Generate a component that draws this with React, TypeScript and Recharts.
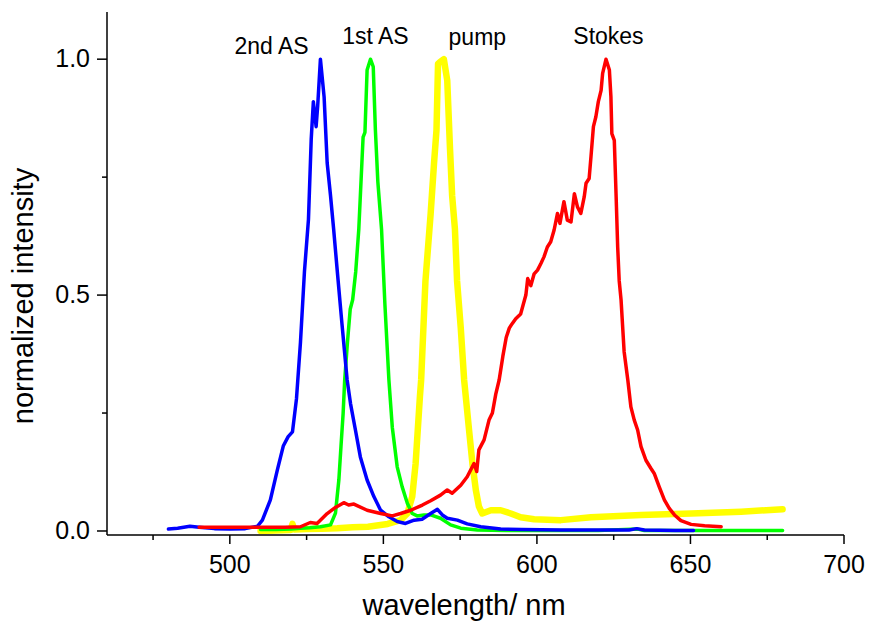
import { LineChart, Line, XAxis, YAxis, ReferenceDot } from 'recharts'

type Pt = [number, number]

// [wavelength nm, normalized intensity]
const secondAS: Pt[] = [
  [480, 0.004], [483, 0.006], [487, 0.01], [490, 0.008], [495, 0.005], [500, 0.004],
  [505, 0.005], [509, 0.01], [510.6, 0.023], [513.2, 0.066], [515.5, 0.13], [517.4, 0.18],
  [519, 0.2], [520.4, 0.21], [521.7, 0.28], [523, 0.4], [524.3, 0.55], [525.6, 0.66],
  [526.5, 0.83], [527.2, 0.91], [527.7, 0.88], [528.1, 0.857], [528.6, 0.9], [529.5, 1.0],
  [530.7, 0.92], [531.7, 0.78], [532.8, 0.71], [533.8, 0.64], [535, 0.55], [536.5, 0.44],
  [538.2, 0.32], [539.3, 0.27], [540.9, 0.214], [542.5, 0.157], [544.7, 0.108], [546.9, 0.073],
  [549.1, 0.044], [551.8, 0.03], [554.5, 0.02], [557.2, 0.016], [560, 0.023], [562.6, 0.025],
  [565.4, 0.037], [567.6, 0.046], [569.2, 0.034], [570.8, 0.027], [574.1, 0.023], [577.3, 0.015],
  [581.7, 0.009], [588.2, 0.004], [595, 0.003], [607.8, 0.002], [620, 0.002], [630, 0.002],
  [632.5, 0.005], [635, 0.002], [645, 0.001], [651, 0.001],
]

const firstAS: Pt[] = [
  [510, 0.003], [515, 0.003], [520, 0.004], [523, 0.006], [526, 0.007], [529.5, 0.009],
  [532.8, 0.013], [534.4, 0.038], [535.5, 0.108], [536.2, 0.18], [536.9, 0.25], [537.4, 0.32],
  [538.3, 0.4], [539.2, 0.47], [540, 0.49], [541, 0.55], [542, 0.64], [543, 0.78],
  [543.4, 0.835], [544, 0.845], [544.7, 0.977], [545.8, 1.0], [546.7, 0.984], [547.4, 0.85],
  [548.2, 0.74], [549.4, 0.64], [550.5, 0.48], [551.8, 0.32], [552.9, 0.22], [554.5, 0.136],
  [556.1, 0.094], [557.8, 0.059], [559.4, 0.037], [561, 0.032], [563.2, 0.034], [565.4, 0.034],
  [568.6, 0.027], [571.9, 0.013], [575.2, 0.006], [580.6, 0.002], [590, 0.001], [600, 0.001],
  [620, 0.001], [632.8, 0.004], [635, 0.001], [650, 0.001], [665, 0.001], [680, 0.001],
]

const pump: Pt[] = [
  [510, 0.0], [515, 0.001], [519.8, 0.002], [520.4, 0.015], [521, 0.003], [525, 0.004],
  [530, 0.005], [535, 0.006], [540, 0.008], [545, 0.009], [551.4, 0.015], [555.6, 0.023],
  [557.8, 0.037], [559.4, 0.073], [560.5, 0.143], [561.2, 0.214], [561.9, 0.285], [562.3, 0.32],
  [563.7, 0.53], [565.4, 0.673], [566.5, 0.78], [567.3, 0.85], [567.8, 0.99], [568.6, 0.995],
  [569.7, 1.0], [570.8, 0.955], [571.7, 0.81], [572.4, 0.71], [573.3, 0.64], [574, 0.53],
  [575.2, 0.43], [576.3, 0.32], [577.9, 0.214], [579, 0.143], [580.1, 0.087], [581.1, 0.052],
  [582.2, 0.037], [585, 0.044], [588.2, 0.044], [591.5, 0.037], [594.7, 0.029], [599.1, 0.025],
  [607.8, 0.023], [617.6, 0.029], [633.9, 0.034], [650.2, 0.037], [666.5, 0.041], [680, 0.046],
]

const stokes: Pt[] = [
  [490, 0.008], [500, 0.008], [510, 0.008], [518, 0.008], [523, 0.009], [526.2, 0.018],
  [528.4, 0.016], [531.7, 0.037], [534.4, 0.05], [537.1, 0.06], [538.7, 0.055], [540.4, 0.057],
  [544.7, 0.044], [549.1, 0.037], [552.9, 0.032], [555.6, 0.037], [558.9, 0.044], [562.7, 0.055],
  [565.4, 0.064], [568.6, 0.076], [570.8, 0.087], [572.4, 0.08], [575.2, 0.097], [577.3, 0.115],
  [579.5, 0.143], [580.4, 0.126], [581.1, 0.172], [582.8, 0.193], [584.4, 0.235], [585.5, 0.25],
  [586.6, 0.29], [587.7, 0.32], [588.9, 0.37], [590, 0.41], [591, 0.43], [592, 0.44],
  [593.1, 0.45], [594.7, 0.46], [596.4, 0.5], [597, 0.535], [598, 0.52], [599.1, 0.545],
  [600.2, 0.553], [601.3, 0.567], [602.3, 0.581], [603.4, 0.602], [604.5, 0.613], [605.6, 0.638],
  [606.7, 0.673], [607.5, 0.652], [608.8, 0.698], [609.9, 0.659], [611.1, 0.655], [612.2, 0.715],
  [613.2, 0.687], [614.3, 0.673], [615.4, 0.708], [616, 0.737], [617, 0.747], [617.6, 0.793],
  [618.4, 0.857], [619.2, 0.878], [620, 0.91], [620.9, 0.934], [621.4, 0.97], [622.5, 1.0],
  [623.6, 0.977], [624.1, 0.92], [624.4, 0.842], [625.2, 0.828], [625.8, 0.708], [626.3, 0.602],
  [626.8, 0.53], [627.4, 0.49], [628.4, 0.38], [629.6, 0.32], [630.6, 0.263], [631.7, 0.235],
  [632.8, 0.214], [633.9, 0.179], [635.5, 0.15], [637.1, 0.133], [638.2, 0.122], [639.8, 0.094],
  [641.5, 0.066], [643.1, 0.048], [644.8, 0.034], [646.9, 0.022], [650.2, 0.014], [654.6, 0.011],
  [660, 0.009],
]

const xTicks = [475, 500, 525, 550, 575, 600, 625, 650, 675, 700]
const yTicks = [0, 0.25, 0.5, 0.75, 1]
const yTickLabels: Record<string, string> = { '0': '0.0', '0.5': '0.5', '1': '1.0' }

const annotations = [
  { text: '2nd AS', nm: 513.6, at: 1.011 },
  { text: '1st AS', nm: 547.4, at: 1.033 },
  { text: 'pump', nm: 580.6, at: 1.029 },
  { text: 'Stokes', nm: 623.3, at: 1.033 },
]

const FONT = '"Liberation Sans", Arial, sans-serif'

const rows = (pts: Pt[]) => pts.map(([nm, v]) => ({ nm, v }))

function BottomTick({ x, y, payload }: any) {
  const major = payload.value % 50 === 0
  return (
    <g>
      <line x1={x} y1={y} x2={x} y2={y + (major ? 9 : 5)} stroke="#000" strokeWidth={1.5} />
      {major && (
        <text x={x} y={y + 38} textAnchor="middle" fontSize={25} fontFamily={FONT} fill="#000">
          {payload.value}
        </text>
      )}
    </g>
  )
}

function TopTick({ x, y }: any) {
  return <line x1={x} y1={y} x2={x} y2={y + 4} stroke="#000" strokeWidth={1.2} />
}

function LeftTick({ x, y, payload }: any) {
  const label = yTickLabels[String(payload.value)]
  return (
    <g>
      <line x1={x - (label ? 10 : 5)} y1={y} x2={x} y2={y} stroke="#000" strokeWidth={1.5} />
      {label && (
        <text x={x - 17} y={y + 8} textAnchor="end" fontSize={25} fontFamily={FONT} fill="#000">
          {label}
        </text>
      )}
    </g>
  )
}

function RightTick({ x, y }: any) {
  return <line x1={x - 4} y1={y} x2={x} y2={y} stroke="#000" strokeWidth={1.2} />
}

export default function App() {
  return (
    <div style={{ position: 'absolute', left: 0, top: 0, width: 870, height: 623, background: '#fff' }}>
      <LineChart width={870} height={623} margin={{ top: 12, right: 26, bottom: 0, left: 0 }}>
        <XAxis
          xAxisId="bottom"
          dataKey="nm"
          type="number"
          domain={[460, 700]}
          allowDataOverflow
          ticks={xTicks}
          interval={0}
          height={88}
          tickSize={0}
          tickMargin={0}
          tick={<BottomTick />}
          tickLine={false}
          axisLine={{ stroke: '#000', strokeWidth: 1.5 }}
          label={{
            content: () => (
              <text x={464} y={615} textAnchor="middle" fontSize={29} fontFamily={FONT} fill="#000">
                wavelength/ nm
              </text>
            ),
          }}
        />
        <XAxis
          xAxisId="top"
          orientation="top"
          dataKey="nm"
          type="number"
          domain={[460, 700]}
          allowDataOverflow
          ticks={xTicks.slice(0, -1)}
          interval={0}
          height={0}
          tickSize={0}
          tickMargin={0}
          tick={<TopTick />}
          tickLine={false}
          axisLine={{ stroke: '#000', strokeWidth: 1.5 }}
        />
        <YAxis
          yAxisId="left"
          type="number"
          domain={[-0.0085, 1.1]}
          allowDataOverflow
          ticks={yTicks}
          interval={0}
          width={107}
          tickSize={0}
          tickMargin={0}
          tick={<LeftTick />}
          tickLine={false}
          axisLine={{ stroke: '#000', strokeWidth: 1.5 }}
          label={{
            content: () => (
              <text
                x={33}
                y={296}
                transform="rotate(-90, 33, 296)"
                textAnchor="middle"
                fontSize={29}
                fontFamily={FONT}
                fill="#000"
              >
                normalized intensity
              </text>
            ),
          }}
        />
        <YAxis
          yAxisId="right"
          orientation="right"
          type="number"
          domain={[-0.0085, 1.1]}
          allowDataOverflow
          ticks={yTicks}
          interval={0}
          width={0}
          tickSize={0}
          tickMargin={0}
          tick={<RightTick />}
          tickLine={false}
          axisLine={{ stroke: '#000', strokeWidth: 1.5 }}
        />
        <Line xAxisId="bottom" yAxisId="left" data={rows(pump)} dataKey="v" type="linear" stroke="#ffff00" strokeWidth={6.5} dot={false} strokeLinejoin="round" strokeLinecap="round" isAnimationActive={false} />
        <Line xAxisId="bottom" yAxisId="left" data={rows(firstAS)} dataKey="v" type="linear" stroke="#00ff00" strokeWidth={3.5} dot={false} strokeLinejoin="round" strokeLinecap="round" isAnimationActive={false} />
        <Line xAxisId="bottom" yAxisId="left" data={rows(secondAS)} dataKey="v" type="linear" stroke="#0000ff" strokeWidth={3.5} dot={false} strokeLinejoin="round" strokeLinecap="round" isAnimationActive={false} />
        <Line xAxisId="bottom" yAxisId="left" data={rows(stokes)} dataKey="v" type="linear" stroke="#ff0000" strokeWidth={3.5} dot={false} strokeLinejoin="round" strokeLinecap="round" isAnimationActive={false} />
        {annotations.map((a) => (
          <ReferenceDot
            key={a.text}
            xAxisId="bottom"
            yAxisId="left"
            x={a.nm}
            y={a.at}
            r={0}
            fill="none"
            stroke="none"
            label={{
              content: ({ viewBox }: any) => (
                <text x={viewBox.x} y={viewBox.y} textAnchor="middle" fontSize={23} fontFamily={FONT} fill="#000">
                  {a.text}
                </text>
              ),
            }}
          />
        ))}
      </LineChart>
    </div>
  )
}
